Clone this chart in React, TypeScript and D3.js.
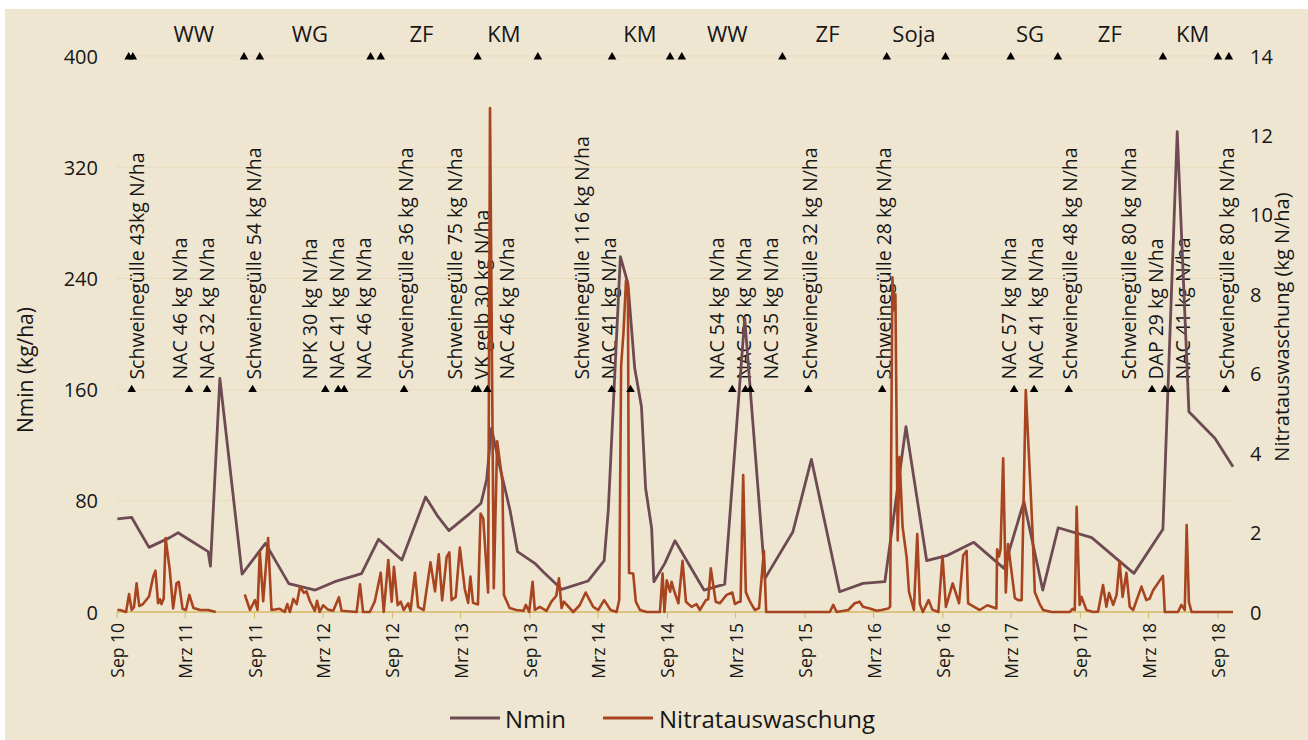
import React from 'react';
import * as d3 from 'd3';

// ---------------- data ----------------
const nminSeries: [string, number][] = [
  ["2010-09-02", 67], ["2010-10-10", 68], ["2010-11-25", 46.5], ["2011-01-19", 53.5], ["2011-02-10", 57],
  ["2011-05-01", 43.4], ["2011-05-07", 33], ["2011-06-01", 168], ["2011-07-30", 27.3], ["2011-09-30", 49.4],
  ["2011-12-01", 20.4], ["2012-02-09", 15.8], ["2012-04-01", 21.8], ["2012-06-11", 27.6], ["2012-07-26", 52.3],
  ["2012-09-26", 37.4], ["2012-11-28", 82.7], ["2012-12-31", 68.6], ["2013-01-29", 58.5], ["2013-03-26", 71],
  ["2013-04-24", 78.2], ["2013-05-09", 95], ["2013-05-22", 132], ["2013-06-13", 104.5], ["2013-07-10", 73.4],
  ["2013-07-30", 43.4], ["2013-09-14", 35], ["2013-10-06", 29], ["2013-11-24", 16.3], ["2014-02-02", 22.3],
  ["2014-03-17", 36.9], ["2014-03-28", 73.4], ["2014-04-29", 255.6], ["2014-05-19", 236.4], ["2014-06-06", 175.5],
  ["2014-06-24", 147.7], ["2014-07-05", 89], ["2014-07-21", 60.2], ["2014-07-27", 21.8], ["2014-08-25", 35],
  ["2014-09-21", 51.3], ["2014-12-07", 15.8], ["2015-01-31", 20.1], ["2015-03-25", 211.3], ["2015-05-18", 24.2],
  ["2015-07-31", 57.8], ["2015-09-18", 109.8], ["2015-12-02", 14.6], ["2016-02-02", 20.6], ["2016-03-31", 21.8],
  ["2016-05-26", 133.3], ["2016-07-20", 36.9], ["2016-09-11", 40.5], ["2016-11-22", 50.1], ["2017-02-10", 31.4],
  ["2017-04-04", 79.4], ["2017-05-24", 15.8], ["2017-07-04", 60.6], ["2017-10-01", 53.5], ["2018-01-21", 27.8],
  ["2018-04-08", 59.5], ["2018-05-16", 345.5], ["2018-06-16", 144.1], ["2018-08-24", 125], ["2018-10-11", 104.5],
];

const nitratSeries: [string, number | null][] = [
  ["2010-09-02", 0.05], ["2010-09-09", 0.05], ["2010-09-25", 0], ["2010-10-03", 0.45], ["2010-10-10", 0.05],
  ["2010-10-16", 0.12], ["2010-10-23", 0.72], ["2010-10-30", 0.15], ["2010-11-09", 0.2], ["2010-11-25", 0.39],
  ["2010-12-06", 0.89], ["2010-12-12", 1.04], ["2010-12-19", 0.22], ["2010-12-24", 0.32], ["2010-12-28", 0.2],
  ["2011-01-03", 0.34], ["2011-01-08", 1.86], ["2011-01-19", 1.06], ["2011-01-28", 0.09], ["2011-02-06", 0.72],
  ["2011-02-12", 0.76], ["2011-02-22", 0.08], ["2011-03-03", 0.05], ["2011-03-12", 0.43], ["2011-03-23", 0.1],
  ["2011-04-10", 0.05], ["2011-05-01", 0.05], ["2011-05-21", 0],
  ["2011-07-01", null],
  ["2011-08-06", 0.44], ["2011-08-20", 0.05], ["2011-09-02", 0.3], ["2011-09-09", 0.05], ["2011-09-15", 1.52],
  ["2011-09-24", 0.27], ["2011-10-07", 1.86], ["2011-10-16", 0.05], ["2011-11-07", 0.08], ["2011-11-20", 0],
  ["2011-11-27", 0.2], ["2011-12-04", 0], ["2011-12-13", 0.33], ["2011-12-22", 0.2], ["2011-12-31", 0.64],
  ["2012-01-10", 0.48], ["2012-01-17", 0.52], ["2012-01-26", 0.27], ["2012-02-08", 0.03], ["2012-02-14", 0.28],
  ["2012-02-21", 0], ["2012-03-01", 0.17], ["2012-03-14", 0.06], ["2012-03-28", 0.03], ["2012-04-12", 0.37],
  ["2012-04-19", 0.03], ["2012-05-29", 0], ["2012-06-07", 0.7], ["2012-06-15", 0], ["2012-07-03", 0],
  ["2012-07-16", 0.26], ["2012-08-01", 0.99], ["2012-08-09", 0], ["2012-08-21", 1.31], ["2012-08-30", 0.26],
  ["2012-09-05", 1.14], ["2012-09-15", 0.17], ["2012-09-23", 0.26], ["2012-10-01", 0.05], ["2012-10-13", 0.22],
  ["2012-10-19", 0.03], ["2012-10-31", 0.99], ["2012-11-08", 0.13], ["2012-11-23", 0.05], ["2012-12-11", 1.25],
  ["2012-12-23", 0.52], ["2013-01-02", 1.45], ["2013-01-11", 0.29], ["2013-01-23", 1.39], ["2013-01-30", 1.5],
  ["2013-02-05", 0.3], ["2013-02-16", 0.38], ["2013-02-27", 1.62], ["2013-03-12", 0.58], ["2013-03-21", 0.23],
  ["2013-03-27", 0.89], ["2013-04-03", 0.23], ["2013-04-16", 0.19], ["2013-04-23", 2.48], ["2013-04-30", 2.36],
  ["2013-05-13", 0.49], ["2013-05-18", 12.69], ["2013-05-28", 0.6], ["2013-06-06", 4.3], ["2013-06-20", 3.28],
  ["2013-06-24", 0.43], ["2013-07-09", 0.1], ["2013-07-27", 0.05], ["2013-08-15", 0.03], ["2013-08-21", 0.18],
  ["2013-08-30", 0], ["2013-09-08", 0.76], ["2013-09-14", 0.05], ["2013-09-27", 0.13], ["2013-10-15", 0.03],
  ["2013-10-28", 0.26], ["2013-11-10", 0.41], ["2013-11-17", 0.85], ["2013-11-24", 0.1], ["2013-11-30", 0.26],
  ["2013-12-25", 0], ["2014-01-11", 0.17], ["2014-01-27", 0.49], ["2014-02-16", 0.13], ["2014-03-01", 0.05],
  ["2014-03-17", 0.3], ["2014-04-03", 0.05], ["2014-04-19", 0], ["2014-04-26", 0.3], ["2014-05-01", 6.2],
  ["2014-05-07", 7.0], ["2014-05-14", 8.35], ["2014-05-19", 8.2], ["2014-05-22", 0.98], ["2014-06-02", 0.97],
  ["2014-06-09", 0.26], ["2014-06-20", 0.05], ["2014-07-08", 0], ["2014-08-12", 0], ["2014-08-19", 0.97],
  ["2014-08-24", 0], ["2014-08-30", 0.8], ["2014-09-08", 0.51], ["2014-09-12", 0.76], ["2014-09-18", 0.55],
  ["2014-09-30", 0.22], ["2014-10-11", 1.29], ["2014-10-20", 0.26], ["2014-11-04", 0.13], ["2014-11-17", 0.2],
  ["2014-11-26", 0.05], ["2014-12-12", 0.3], ["2014-12-18", 0.32], ["2014-12-25", 1.1], ["2015-01-07", 0.26],
  ["2015-01-18", 0.22], ["2015-02-05", 0.43], ["2015-02-20", 0.49], ["2015-02-27", 0.2], ["2015-03-08", 0.25],
  ["2015-03-14", 0.26], ["2015-03-21", 3.45], ["2015-03-28", 0.5], ["2015-04-08", 0.26], ["2015-04-21", 0.05],
  ["2015-05-02", 0.1], ["2015-05-15", 1.54], ["2015-05-21", 0], ["2015-11-06", 0], ["2015-11-15", 0.18],
  ["2015-11-24", 0], ["2015-12-25", 0.05], ["2016-01-11", 0.22], ["2016-01-24", 0.26], ["2016-02-02", 0.13],
  ["2016-02-20", 0.09], ["2016-03-09", 0.03], ["2016-03-22", 0.05], ["2016-04-09", 0.09], ["2016-04-14", 0.13],
  ["2016-04-20", 8.43], ["2016-04-24", 7.6], ["2016-04-28", 8.0], ["2016-05-04", 1.8], ["2016-05-09", 3.9],
  ["2016-05-17", 2.15], ["2016-05-28", 1.36], ["2016-06-03", 0.51], ["2016-06-16", 0.05], ["2016-06-25", 1.96],
  ["2016-07-02", 0.2], ["2016-07-10", 0], ["2016-07-25", 0.3], ["2016-08-04", 0.06], ["2016-08-20", 0],
  ["2016-08-31", 1.41], ["2016-09-09", 0.13], ["2016-09-27", 0.72], ["2016-10-14", 0.22], ["2016-10-25", 1.43],
  ["2016-11-03", 1.54], ["2016-11-07", 0.22], ["2016-12-08", 0.05], ["2016-12-28", 0.17], ["2017-01-21", 0.09],
  ["2017-01-23", 1.58], ["2017-01-28", 1.4], ["2017-02-01", 1.58], ["2017-02-08", 3.87], ["2017-02-15", 0.49],
  ["2017-02-21", 1.71], ["2017-03-11", 0.35], ["2017-03-20", 0.3], ["2017-03-29", 0.3], ["2017-04-09", 5.59],
  ["2017-04-22", 3.03], ["2017-04-27", 2.0], ["2017-05-03", 0.5], ["2017-05-16", 0.2], ["2017-05-25", 0.05],
  ["2017-06-16", 0], ["2017-08-04", 0], ["2017-08-11", 0.08], ["2017-08-17", 0.05], ["2017-08-22", 2.65],
  ["2017-08-30", 0.18], ["2017-09-04", 0.38], ["2017-09-17", 0.05], ["2017-10-05", 0], ["2017-10-18", 0.01],
  ["2017-10-31", 0.68], ["2017-11-09", 0.13], ["2017-11-16", 0.48], ["2017-11-27", 0.18], ["2017-12-06", 0.43],
  ["2017-12-14", 1.27], ["2017-12-22", 0.38], ["2018-01-01", 0.99], ["2018-01-10", 0.13], ["2018-01-19", 0.05],
  ["2018-02-10", 0.64], ["2018-02-23", 0.3], ["2018-03-04", 0.34], ["2018-03-13", 0.55], ["2018-04-08", 0.91],
  ["2018-04-13", 0], ["2018-05-18", 0], ["2018-05-27", 0.18], ["2018-06-05", 0.05], ["2018-06-10", 2.19],
  ["2018-06-16", 0.25], ["2018-06-23", 0], ["2018-10-11", 0],
];

// sowing / harvest dates (markers on the 400 line)
const cropEventDates: string[] = [
  "2010-10-02", "2010-10-13", "2011-08-04", "2011-09-15", "2012-07-05", "2012-08-01", "2013-04-15",
  "2013-09-22", "2014-04-07", "2014-09-08", "2014-10-09", "2015-07-03", "2016-04-05", "2016-09-08",
  "2017-02-28", "2017-07-03", "2018-04-08", "2018-09-01", "2018-09-30",
];
const cropLabelNames: string[] = ["WW", "WG", "ZF", "KM", "KM", "WW", "ZF", "Soja", "SG", "ZF", "KM"];
const cropLabelDates: string[] = [
  "2011-03-24", "2012-01-26", "2012-11-17", "2013-06-24", "2014-06-20", "2015-02-07",
  "2015-10-31", "2016-06-16", "2017-04-20", "2017-11-18", "2018-06-26",
];

// fertilisation events (markers on the 160 line)
const fertDates: string[] = [
  "2010-10-10", "2011-03-11", "2011-04-28", "2011-08-27", "2012-03-07", "2012-04-10", "2012-04-26",
  "2012-10-02", "2013-04-08", "2013-04-16", "2013-05-11", "2014-04-06", "2014-05-26", "2015-02-20",
  "2015-03-27", "2015-04-09", "2015-09-10", "2016-03-24", "2017-03-09", "2017-05-01", "2017-08-01",
  "2018-03-10", "2018-04-13", "2018-05-01", "2018-09-22",
];
const fertLabels: string[] = [
  "Schweinegülle 43kg N/ha", "NAC 46 kg N/ha", "NAC 32 kg N/ha", "Schweinegülle 54 kg N/ha",
  "NPK 30 kg N/ha", "NAC 41 kg N/ha", "NAC 46 kg N/ha", "Schweinegülle 36 kg N/ha",
  "Schweinegülle 75 kg N/ha", "VK gelb 30 kg N/ha", "NAC 46 kg N/ha", "Schweinegülle 116 kg N/ha",
  "NAC 41 kg N/ha", "NAC 54 kg N/ha", "NAC 53 kg N/ha", "NAC 35 kg N/ha", "Schweinegülle 32 kg N/ha",
  "Schweinegülle 28 kg N/ha", "NAC 57 kg N/ha", "NAC 41 kg N/ha", "Schweinegülle 48 kg N/ha",
  "Schweinegülle 80 kg N/ha", "DAP 29 kg N/ha", "NAC 41 kg N/ha", "Schweinegülle 80 kg N/ha",
];

const xTickDates: string[] = [
  "2010-09-01", "2011-03-01", "2011-09-01", "2012-03-01", "2012-09-01", "2013-03-01", "2013-09-01",
  "2014-03-01", "2014-09-01", "2015-03-01", "2015-09-01", "2016-03-01", "2016-09-01", "2017-03-01",
  "2017-09-01", "2018-03-01", "2018-09-01",
];
const xTickLabels: string[] = [
  "Sep 10", "Mrz 11", "Sep 11", "Mrz 12", "Sep 12", "Mrz 13", "Sep 13", "Mrz 14", "Sep 14",
  "Mrz 15", "Sep 15", "Mrz 16", "Sep 16", "Mrz 17", "Sep 17", "Mrz 18", "Sep 18",
];
const leftTicks: number[] = [0, 80, 160, 240, 320, 400];
const rightTicks: number[] = [0, 2, 4, 6, 8, 10, 12, 14];
const xDomain: string[] = ["2010-09-01", "2018-10-11"];
const cropMarkerLevel = 400;
const fertMarkerLevel = 160;

// label layout tweaks (pixels), applied after automatic spreading
const labelNudge: Record<number, number> = { 0: 4, 1: -6, 2: -6, 10: -2, 11: -27, 12: -27, 18: -3, 19: -3, 21: -8, 22: -8, 23: -8 };

// ---------------- chart ----------------
const W = 1308;
const H = 740;
const FONT = "'Open Sans', 'Noto Sans', sans-serif";
const NMIN_COLOR = '#6E4B53';
const NIT_COLOR = '#A8441F';
const AXIS_COLOR = '#D3B864';
const GRID_COLOR = '#E6DBBC';
const BG = '#EFE6D1';
const TEXT = '#161616';

const pd = (s: string) => new Date(s + 'T00:00:00Z');

export default function App() {
  const x = d3.scaleUtc().domain(xDomain.map(pd)).range([117, 1233]);
  const yL = d3.scaleLinear().domain([0, 400]).range([612, 56]);
  const yR = d3.scaleLinear().domain([0, 14]).range([612, 56]);

  const nminLine = d3
    .line<[string, number]>()
    .x((d) => x(pd(d[0])))
    .y((d) => yL(d[1]));
  const nitLine = d3
    .line<[string, number | null]>()
    .defined((d) => d[1] !== null)
    .x((d) => x(pd(d[0])))
    .y((d) => yR(d[1] as number));

  const tri = d3.symbol().type(d3.symbolTriangle).size(32)() as string;

  // spread fertiliser labels within clusters
  const fx = fertDates.map((d) => x(pd(d)));
  const spacing = 27;
  const labelX: number[] = new Array(fx.length).fill(0);
  let i = 0;
  while (i < fx.length) {
    let j = i;
    while (j + 1 < fx.length && fx[j + 1] - fx[j] < spacing) j++;
    const n = j - i + 1;
    const mean = d3.mean(fx.slice(i, j + 1)) as number;
    for (let k = 0; k < n; k++) {
      labelX[i + k] = mean + (k - (n - 1) / 2) * spacing + 1 + (labelNudge[i + k] || 0);
    }
    i = j + 1;
  }

  return (
    <svg
      width={W}
      height={H}
      style={{ position: 'absolute', left: 0, top: 0, fontFamily: FONT }}
    >
      <rect x={0} y={0} width={W} height={H} fill="#ffffff" />
      <rect x={5} y={9} width={W - 5} height={H - 9} fill={BG} />

      {/* gridlines */}
      {leftTicks.filter((t) => t > 0).map((t) => (
        <line key={'g' + t} x1={117} x2={1233} y1={yL(t)} y2={yL(t)} stroke={GRID_COLOR} strokeWidth={1} />
      ))}

      {/* x axis */}
      <line x1={117} x2={1233} y1={612} y2={612} stroke={AXIS_COLOR} strokeWidth={1.5} />
      {xTickDates.map((d, k) => {
        const px = x(pd(d));
        return (
          <g key={'xt' + k}>
            <line x1={px} x2={px} y1={612} y2={618} stroke={AXIS_COLOR} strokeWidth={1} />
            <text
              transform={`translate(${px},623) rotate(-90)`}
              textAnchor="end"
              dominantBaseline="central"
              fontSize={17.5}
              fill={TEXT}
            >
              {xTickLabels[k]}
            </text>
          </g>
        );
      })}

      {/* left axis labels */}
      {leftTicks.map((t) => (
        <text key={'l' + t} x={98} y={yL(t)} textAnchor="end" dominantBaseline="central" fontSize={20} fill={TEXT}>
          {t}
        </text>
      ))}
      {/* right axis labels */}
      {rightTicks.map((t) => (
        <text key={'r' + t} x={1250} y={yR(t)} textAnchor="start" dominantBaseline="central" fontSize={20} fill={TEXT}>
          {t}
        </text>
      ))}
      <text
        transform={`translate(25,370) rotate(-90)`}
        textAnchor="middle"
        dominantBaseline="central"
        fontSize={21}
        fill={TEXT}
      >
        Nmin (kg/ha)
      </text>
      <text
        transform={`translate(1281,327) rotate(-90)`}
        textAnchor="middle"
        dominantBaseline="central"
        fontSize={20}
        fill={TEXT}
      >
        Nitratauswaschung (kg N/ha)
      </text>

      {/* crop names */}
      {cropLabelNames.map((c, k) => (
        <text
          key={'c' + k}
          x={x(pd(cropLabelDates[k]))}
          y={33}
          textAnchor="middle"
          dominantBaseline="central"
          fontSize={22}
          fill={TEXT}
        >
          {c}
        </text>
      ))}

      {/* fertiliser labels */}
      {fertLabels.map((t, k) => (
        <text
          key={'f' + k}
          transform={`translate(${labelX[k]},${yL(fertMarkerLevel) - 10}) rotate(-90)`}
          textAnchor="start"
          dominantBaseline="central"
          fontSize={19.5}
          fill={TEXT}
        >
          {t}
        </text>
      ))}

      {/* series */}
      <path d={nminLine(nminSeries) as string} fill="none" stroke={NMIN_COLOR} strokeWidth={2.8} strokeLinejoin="round" />
      <path d={nitLine(nitratSeries) as string} fill="none" stroke={NIT_COLOR} strokeWidth={2.6} strokeLinejoin="round" />

      {/* markers */}
      {cropEventDates.map((d, k) => (
        <path key={'ct' + k} d={tri} transform={`translate(${x(pd(d))},${yL(cropMarkerLevel) + 1})`} fill="#000" />
      ))}
      {fertDates.map((d, k) => (
        <path key={'ft' + k} d={tri} transform={`translate(${x(pd(d))},${yL(fertMarkerLevel)})`} fill="#000" />
      ))}

      {/* legend */}
      <line x1={450} x2={500} y1={718} y2={718} stroke={NMIN_COLOR} strokeWidth={2.8} />
      <text x={505} y={718} dominantBaseline="central" fontSize={24} fill={TEXT}>Nmin</text>
      <line x1={603} x2={653} y1={718} y2={718} stroke={NIT_COLOR} strokeWidth={2.8} />
      <text x={659} y={718} dominantBaseline="central" fontSize={24} fill={TEXT}>Nitratauswaschung</text>
    </svg>
  );
}
